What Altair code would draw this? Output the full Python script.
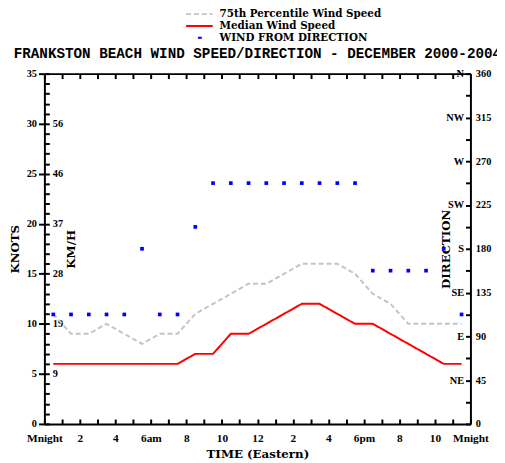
import json
import altair as alt
import pandas as pd

# ---------------- data ----------------
hours = [0.5, 1.5, 2.5, 3.5, 4.5, 5.5, 6.5, 7.5, 8.5, 9.5, 10.5, 11.5,
         12.5, 13.5, 14.5, 15.5, 16.5, 17.5, 18.5, 19.5, 20.5, 21.5, 22.5, 23.5]
p75_knots = [11, 9, 9, 10, 9, 8, 9, 9, 11, 12, 13, 14,
             14, 15, 16, 16, 16, 15, 13, 12, 10, 10, 10, 10]
median_knots = [6, 6, 6, 6, 6, 6, 6, 6, 7, 7, 9, 9,
                10, 11, 12, 12, 11, 10, 10, 9, 8, 7, 6, 6]
direction_deg = [112.5, 112.5, 112.5, 112.5, 112.5, 180, 112.5, 112.5, 202.5, 247.5, 247.5, 247.5,
                 247.5, 247.5, 247.5, 247.5, 247.5, 247.5, 157.5, 157.5, 157.5, 157.5, 180, 112.5]

series_names = ["75th Percentile Wind Speed", "Median Wind Speed", "WIND FROM DIRECTION"]
series_colors = ["#c4c4c4", "#ff0000", "#0000ff"]
series_dash = [[5, 3], [1, 0], [0, 12, 4, 100]]

hour_ticks = [0, 2, 4, 6, 8, 10, 12, 14, 16, 18, 20, 22, 24]
hour_labels = ["Mnight", "2", "4", "6am", "8", "10", "12", "2", "4", "6pm", "8", "10", "Mnight"]
knot_ticks = [0, 5, 10, 15, 20, 25, 30, 35]
kmh_knots = [5, 10, 15, 20, 25, 30]
kmh_labels = ["9", "19", "28", "37", "46", "56"]
dir_ticks = [0, 45, 90, 135, 180, 225, 270, 315, 360]
compass_deg = [45, 90, 135, 180, 225, 270, 315, 360]
compass_labels = ["NE", "E", "SE", "S", "SW", "W", "NW", "N"]

title_text = "FRANKSTON BEACH WIND SPEED/DIRECTION - DECEMBER 2000-2004"

# ---------------- tables ----------------
speed = pd.DataFrame({
    "hour": hours + hours,
    "knots": p75_knots + median_knots,
    "series": [series_names[0]] * len(hours) + [series_names[1]] * len(hours),
})
dirdf = pd.DataFrame({"hour": hours, "deg": direction_deg})

W, H = 433, 356
xs = alt.Scale(domain=[0, 24], nice=False, zero=False)
ks = alt.Scale(domain=[0, 35], nice=False)
ds = alt.Scale(domain=[0, 360], nice=False)
hour_all = list(range(25))
knot_all = list(range(36))
dir_all = [i * 22.5 for i in range(17)]

LBL = dict(labelFont="Liberation Serif", labelFontWeight="bold", labelFontSize=10.5,
           labelColor="black", labelFlush=False, labelOverlap=False)
TTL = dict(titleFont="DejaVu Serif", titleFontWeight="bold", titleFontSize=12, titleColor="black")
TCK = dict(tickColor="black", tickWidth=2, grid=False)

x_label_expr = f"{json.dumps(hour_labels)}[datum.value / 2]"
kmh_expr = (f"indexof({json.dumps(kmh_knots)}, datum.value) >= 0 ? "
            f"{json.dumps(kmh_labels)}[indexof({json.dumps(kmh_knots)}, datum.value)] : ''")
comp_expr = (f"indexof({json.dumps(compass_deg)}, datum.value) >= 0 ? "
             f"{json.dumps(compass_labels)}[indexof({json.dumps(compass_deg)}, datum.value)] : ''")

legend = alt.Legend(orient="none", legendX=152, legendY=-66, title=None,
                    symbolType="M-3,0H3", symbolSize=81, symbolStrokeWidth=2,
                    labelFont="DejaVu Serif", labelFontWeight="bold", labelFontSize=10.5,
                    labelColor="black", labelOffset=15, labelLimit=400,
                    rowPadding=1, padding=0)

lines = alt.Chart(speed).mark_line(strokeWidth=2).encode(
    x=alt.X("hour:Q", scale=xs, title="TIME (Eastern)",
            axis=alt.Axis(orient="bottom", values=hour_ticks, labelExpr=x_label_expr,
                          ticks=False, domain=True, domainWidth=2, domainColor="black",
                          labelPadding=9, titlePadding=5,
                          **{**LBL, "labelFontSize": 11.5}, **TTL, **TCK)),
    y=alt.Y("knots:Q", scale=ks, title="KNOTS",
            axis=alt.Axis(orient="left", values=knot_ticks, tickSize=6, labelPadding=2,
                          domain=True, domainWidth=2, domainColor="black",
                          titleX=-30, titleBaseline="middle",
                          **LBL, **TTL, **TCK)),
    color=alt.Color("series:N", scale=alt.Scale(domain=series_names, range=series_colors),
                    legend=legend),
    strokeDash=alt.StrokeDash("series:N", scale=alt.Scale(domain=series_names, range=series_dash),
                              legend=legend),
)

pts = alt.Chart(dirdf).mark_square(size=14, color="#0000ff", opacity=1).encode(
    x=alt.X("hour:Q", scale=xs, title=None,
            axis=alt.Axis(orient="top", offset=-H, values=hour_all, labels=False,
                          domain=False, ticks=True, tickSize=5, **TCK)),
    y=alt.Y("deg:Q", scale=ds, title=None,
            axis=alt.Axis(orient="right", values=dir_ticks, ticks=False, labelPadding=5,
                          domain=True, domainWidth=2, domainColor="black",
                          **LBL, **TCK)),
)

kmh_layer = alt.Chart(speed).mark_point(opacity=0).encode(
    x=alt.X("hour:Q", scale=xs, title=None,
            axis=alt.Axis(orient="bottom", offset=-H, values=hour_all, labels=False,
                          domain=True, domainWidth=2, domainColor="black",
                          ticks=True, tickSize=5, **TCK)),
    y=alt.Y("knots:Q", scale=ks, title="KM/H",
            axis=alt.Axis(orient="right", offset=-W, values=knot_all, labelExpr=kmh_expr,
                          tickSize=5, labelPadding=3, domain=False,
                          titleAngle=270, titleX=27, titleBaseline="middle",
                          **LBL, **TTL, **TCK)),
)

comp_layer = alt.Chart(dirdf).mark_point(opacity=0).encode(
    x=alt.X("hour:Q", scale=xs, axis=None),
    y=alt.Y("deg:Q", scale=ds, title="DIRECTION",
            axis=alt.Axis(orient="left", offset=-W, values=dir_all, labelExpr=comp_expr,
                          tickSize=5, labelPadding=2, domain=False,
                          titleAngle=270, titleX=-25, titleBaseline="middle",
                          **LBL, **TTL, **TCK)),
)

chart = alt.layer(lines, pts, kmh_layer, comp_layer).resolve_scale(
    y="independent"
).resolve_axis(
    x="independent", y="independent"
).properties(
    width=W, height=H,
    title=alt.TitleParams(text=title_text, font="Liberation Mono", fontSize=14.5,
                          fontWeight="bold", color="black", anchor="middle",
                          offset=0, dy=54),
    autosize=alt.AutoSizeParams(type="none"),
    padding={"left": 37, "top": 63, "right": 27, "bottom": 36},
).configure_view(strokeWidth=0)

chart.save("out.html", embed_options={"renderer": "svg", "actions": False})
